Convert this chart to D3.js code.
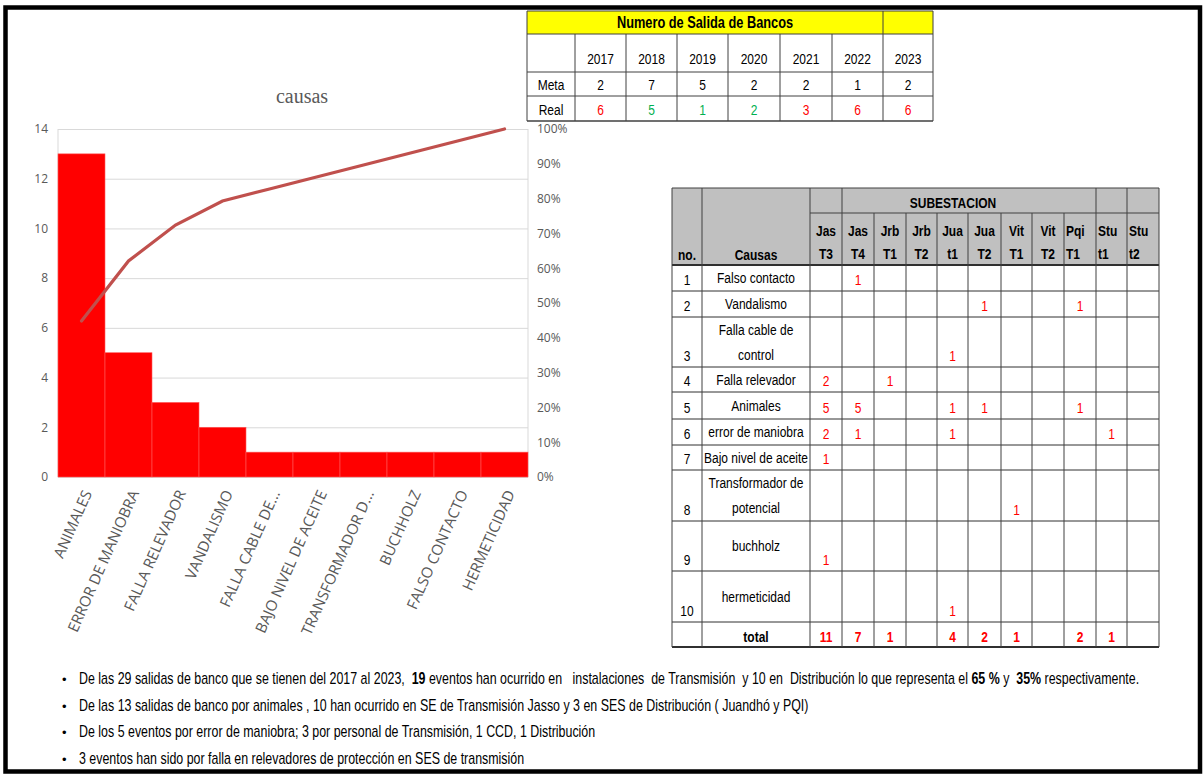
<!DOCTYPE html>
<html>
<head>
<meta charset="utf-8">
<script src="https://cdn.jsdelivr.net/npm/d3@7"></script>
<style>
    body { margin: 0; background: #fff; }
    svg { display: block; }
    .narrow, .notes { font-family: "Liberation Sans Narrow", "Arial Narrow", "Liberation Sans", Arial, sans-serif; }
</style>
</head>
<body>
<svg id="page" width="1204" height="776"></svg>
<script>

/*
*       Data
*/

// Pareto chart: causes and how many bank outages each one caused
var causes = ['ANIMALES', 'ERROR DE MANIOBRA', 'FALLA RELEVADOR', 'VANDALISMO', 'FALLA CABLE DE...',
              'BAJO NIVEL DE ACEITE', 'TRANSFORMADOR D...', 'BUCHHOLZ', 'FALSO CONTACTO', 'HERMETICIDAD'];
var causeCounts = [13, 5, 3, 2, 1, 1, 1, 1, 1, 1];
var leftTicks = [0, 2, 4, 6, 8, 10, 12, 14];
var rightTicks = [0, 0.1, 0.2, 0.3, 0.4, 0.5, 0.6, 0.7, 0.8, 0.9, 1];

// Top table: goal vs real per year
var years = [2017, 2018, 2019, 2020, 2021, 2022, 2023];
var meta = [2, 7, 5, 2, 2, 1, 2];
var real = [6, 5, 1, 2, 3, 6, 6];

// Substation table
var stationName = ['Jas', 'Jas', 'Jrb', 'Jrb', 'Jua', 'Jua', 'Vit', 'Vit', 'Pqi', 'Stu', 'Stu'];
var stationUnit = ['T3', 'T4', 'T1', 'T2', 't1', 'T2', 'T1', 'T2', 'T1', 't1', 't2'];
var rowCauses = [['Falso contacto'], ['Vandalismo'], ['Falla cable de', 'control'], ['Falla relevador'],
                 ['Animales'], ['error de maniobra'], ['Bajo nivel de aceite'], ['Transformador de', 'potencial'],
                 ['buchholz'], ['hermeticidad']];
// one entry per substation column, 0 = empty cell
var rowValues = [
    [0, 1, 0, 0, 0, 0, 0, 0, 0, 0, 0],
    [0, 0, 0, 0, 0, 1, 0, 0, 1, 0, 0],
    [0, 0, 0, 0, 1, 0, 0, 0, 0, 0, 0],
    [2, 0, 1, 0, 0, 0, 0, 0, 0, 0, 0],
    [5, 5, 0, 0, 1, 1, 0, 0, 1, 0, 0],
    [2, 1, 0, 0, 1, 0, 0, 0, 0, 1, 0],
    [1, 0, 0, 0, 0, 0, 0, 0, 0, 0, 0],
    [0, 0, 0, 0, 0, 0, 1, 0, 0, 0, 0],
    [1, 0, 0, 0, 0, 0, 0, 0, 0, 0, 0],
    [0, 0, 0, 0, 1, 0, 0, 0, 0, 0, 0]
];

// Bullet notes (bold parts marked with *)
var notes = [
    'De las 29 salidas de banco que se tienen del 2017 al 2023,  *19* eventos han ocurrido en   instalaciones  de Transmisión  y 10 en  Distribución lo que representa el *65 %* y  *35%* respectivamente.',
    'De las 13 salidas de banco por animales , 10 han ocurrido en SE de Transmisión Jasso y 3 en SES de Distribución ( Juandhó y PQI)',
    'De los 5 eventos por error de maniobra; 3 por personal de Transmisión, 1 CCD, 1 Distribución',
    '3 eventos han sido por falla en relevadores de protección en SES de transmisión'
];

var svg = d3.select('#page');
var RED = '#ff0000', GREEN = '#00b050';

// No Arial Narrow installed, so fake it: regular face squeezed horizontally by a group scale
var NARROW = 0.8;
function narrowText(parent, x, y, str, opts) {
    opts = opts || {};
    var g = parent.append('g')
        .attr('transform', 'translate(' + x + ',' + y + ') scale(' + NARROW + ',1)');
    return g.append('text')
        .attr('text-anchor', opts.anchor || 'middle')
        .style('font-size', (opts.size || 15) + 'px')
        .style('font-weight', opts.bold ? 'bold' : 'normal')
        .style('fill', opts.color || '#000')
        .text(str);
}

/*
*       Pareto chart
*/

var plot = { left: 58, right: 528, top: 129, bottom: 477 };
var total = d3.sum(causeCounts);
var running = 0;
var cumulative = causeCounts.map(function(c) { running += c; return running / total; });

var x = d3.scaleBand().domain(causes).range([plot.left, plot.right]).padding(0);
var y = d3.scaleLinear().domain([0, 14]).range([plot.bottom, plot.top]);
var yPct = d3.scaleLinear().domain([0, 1]).range([plot.bottom, plot.top]);

var chart = svg.append('g').attr('class', 'chart');

chart.append('text')
    .attr('x', 302).attr('y', 103)
    .attr('text-anchor', 'middle')
    .style('font-family', '"Liberation Serif", "DejaVu Serif", serif')
    .style('font-size', '20px')
    .style('fill', '#595959')
    .text('causas');

// gridlines
chart.append('g')
    .attr('transform', 'translate(' + plot.left + ',0)')
    .call(d3.axisLeft(y).tickValues(leftTicks).tickSize(-(plot.right - plot.left)).tickFormat(''))
    .call(function(g) { g.select('.domain').remove(); })
    .selectAll('line').attr('stroke', '#d9d9d9');

// plot side lines
[plot.left, plot.right].forEach(function(px) {
    chart.append('line')
        .attr('x1', px).attr('x2', px).attr('y1', plot.top).attr('y2', plot.bottom)
        .attr('stroke', '#d9d9d9');
});

// bars
chart.append('g').selectAll('rect')
    .data(causeCounts)
    .enter().append('rect')
    .attr('x', function(d, i) { return x(causes[i]); })
    .attr('y', function(d) { return y(d); })
    .attr('width', x.bandwidth())
    .attr('height', function(d) { return plot.bottom - y(d); })
    .attr('fill', RED)
    .attr('stroke', '#ff5a5a')
    .attr('stroke-width', 0.6);

// cumulative line
var line = d3.line()
    .x(function(d, i) { return x(causes[i]) + x.bandwidth() / 2; })
    .y(function(d) { return yPct(d); });

chart.append('path')
    .datum(cumulative)
    .attr('d', line)
    .attr('fill', 'none')
    .attr('stroke', '#c0504d')
    .attr('stroke-width', 3.2)
    .attr('stroke-linecap', 'round');

// axes
var axisFont = '"Open Sans", "Noto Sans", sans-serif';

var leftAxis = chart.append('g')
    .attr('transform', 'translate(' + (plot.left - 10) + ',0)')
    .call(d3.axisLeft(y).tickValues(leftTicks).tickSize(0).tickPadding(0));
var rightAxis = chart.append('g')
    .attr('transform', 'translate(' + (plot.right + 9) + ',0)')
    .call(d3.axisRight(yPct).tickValues(rightTicks).tickSize(0).tickPadding(0).tickFormat(d3.format('.0%')));

[leftAxis, rightAxis].forEach(function(a) {
    a.select('.domain').remove();
    a.selectAll('text')
        .style('font-family', axisFont)
        .style('font-size', '12px')
        .style('fill', '#595959');
});

// rotated category labels
chart.append('g').selectAll('text')
    .data(causes)
    .enter().append('text')
    .attr('transform', function(d) {
        return 'translate(' + (x(d) + x.bandwidth() / 2 + 6) + ',' + (plot.bottom + 14) + ') rotate(-66)';
    })
    .attr('text-anchor', 'end')
    .attr('dy', '0.35em')
    .style('font-family', axisFont)
    .style('font-size', '15px')
    .style('fill', '#595959')
    .text(function(d) { return d; });

/*
*       Table: Numero de Salida de Bancos
*/

var topTable = svg.append('g').attr('class', 'narrow');
var tCols = [527, 575, 626, 677, 728, 780, 832, 883, 933];
var tRows = [11, 34, 72, 96, 121];

topTable.append('rect')
    .attr('x', tCols[0]).attr('y', tRows[0])
    .attr('width', tCols[8] - tCols[0]).attr('height', tRows[1] - tRows[0])
    .attr('fill', '#ffff00');

narrowText(topTable, (tCols[0] + tCols[7]) / 2, tRows[1] - 6, 'Numero de Salida de Bancos', { size: 16, bold: true });

// horizontal rules
tRows.forEach(function(ry) {
    topTable.append('line')
        .attr('x1', tCols[0]).attr('x2', tCols[8]).attr('y1', ry).attr('y2', ry)
        .attr('stroke', '#404040').attr('stroke-width', ry === tRows[4] ? 1.5 : 1);
});
// vertical rules
tCols.forEach(function(cx, i) {
    var top = (i === 0 || i >= 7) ? tRows[0] : tRows[1];
    topTable.append('line')
        .attr('x1', cx).attr('x2', cx).attr('y1', top).attr('y2', tRows[4])
        .attr('stroke', '#404040');
});

function cellCenter(i) { return (tCols[i] + tCols[i + 1]) / 2; }

years.forEach(function(yr, i) {
    narrowText(topTable, cellCenter(i + 1), tRows[2] - 8, yr);
    narrowText(topTable, cellCenter(i + 1), tRows[3] - 6, meta[i]);
    narrowText(topTable, cellCenter(i + 1), tRows[4] - 6, real[i], { color: real[i] > meta[i] ? RED : GREEN });
});

narrowText(topTable, cellCenter(0), tRows[3] - 6, 'Meta');
narrowText(topTable, cellCenter(0), tRows[4] - 6, 'Real');

/*
*       Table: SUBESTACION
*/

var sub = svg.append('g').attr('class', 'narrow');
var sCols = [672, 702, 810, 842, 874, 906, 937, 968, 1001, 1032, 1064, 1096, 1127, 1159];
var headTop = 188, headMid = 213, headBottom = 265;
var rowHeights = [26, 26, 50, 25, 27, 26, 25, 51, 50, 51, 25];  // last one is the total row

var rowEdges = [headBottom];
rowHeights.forEach(function(h) { rowEdges.push(rowEdges[rowEdges.length - 1] + h); });
var tableBottom = rowEdges[rowEdges.length - 1];

// header fill
sub.append('rect')
    .attr('x', sCols[0]).attr('y', headTop)
    .attr('width', sCols[13] - sCols[0]).attr('height', headBottom - headTop)
    .attr('fill', '#c0c0c0');

// horizontal rules
sub.append('line').attr('x1', sCols[0]).attr('x2', sCols[13]).attr('y1', headTop).attr('y2', headTop)
    .attr('stroke', '#404040');
sub.append('line').attr('x1', sCols[2]).attr('x2', sCols[13]).attr('y1', headMid).attr('y2', headMid)
    .attr('stroke', '#404040');
rowEdges.forEach(function(ry, i) {
    sub.append('line')
        .attr('x1', sCols[0]).attr('x2', sCols[13]).attr('y1', ry).attr('y2', ry)
        .attr('stroke', '#303030').attr('stroke-width', (i === 0 || i === rowEdges.length - 1) ? 2 : 1);
});
// vertical rules (SUBESTACION is merged across the first nine station columns)
sCols.forEach(function(cx, i) {
    var top = (i >= 4 && i <= 10) ? headMid : headTop;
    sub.append('line')
        .attr('x1', cx).attr('x2', cx).attr('y1', top).attr('y2', tableBottom)
        .attr('stroke', '#404040');
});

function sCenter(i) { return (sCols[i] + sCols[i + 1]) / 2; }

narrowText(sub, (sCols[2] + sCols[11]) / 2, headMid - 5, 'SUBESTACION', { bold: true });
narrowText(sub, sCenter(0), headBottom - 5, 'no.', { bold: true });
narrowText(sub, sCenter(1), headBottom - 5, 'Causas', { bold: true });

stationName.forEach(function(name, i) {
    var leftAligned = i >= 8;
    var tx = leftAligned ? sCols[i + 2] + 2 : sCenter(i + 2);
    var anchor = leftAligned ? 'start' : 'middle';
    narrowText(sub, tx, headBottom - 29, name, { bold: true, anchor: anchor });
    narrowText(sub, tx, headBottom - 6, stationUnit[i], { bold: true, anchor: anchor });
});

// body rows
rowCauses.forEach(function(lines, r) {
    var top = rowEdges[r], bottom = rowEdges[r + 1];
    var mid = (top + bottom) / 2;

    narrowText(sub, sCenter(0), bottom - 6, r + 1);

    lines.forEach(function(t, k) {
        narrowText(sub, sCenter(1), mid + 5 + (k - (lines.length - 1) / 2) * 25, t);
    });

    rowValues[r].forEach(function(v, c) {
        if (!v) return;
        narrowText(sub, sCenter(c + 2), bottom - 6, v, { color: RED });
    });
});

// total row
narrowText(sub, sCenter(1), tableBottom - 5, 'total', { bold: true });
stationName.forEach(function(n, c) {
    var colSum = d3.sum(rowValues, function(row) { return row[c]; });
    if (!colSum) return;
    narrowText(sub, sCenter(c + 2), tableBottom - 5, colSum, { bold: true, color: RED });
});

/*
*       Notes
*/

// each note is squeezed with a scale on its own group, so the bold tspans stay in place
var noteG = svg.append('g').attr('class', 'notes');
var noteGroups = [];
notes.forEach(function(note, i) {
    var ny = 684 + i * 26.5;
    noteG.append('text').attr('x', 62).attr('y', ny).style('font-size', '13px').text('•');
    var g = noteG.append('g').attr('transform', 'translate(79,' + ny + ')');
    var t = g.append('text').attr('x', 0).attr('y', 0).style('font-size', '16px').style('white-space', 'pre');
    note.split('*').forEach(function(part, k) {
        t.append('tspan').style('font-weight', k % 2 ? 'bold' : 'normal').text(part);
    });
    noteGroups.push({ g: g, t: t, y: ny });
});
// first note runs to about x = 1140 in the original
var noteSqueeze = 1061 / noteGroups[0].t.node().getComputedTextLength();
noteGroups.forEach(function(n) {
    n.g.attr('transform', 'translate(79,' + n.y + ') scale(' + noteSqueeze + ',1)');
});

/*
*       Frame
*/

svg.append('path')
    .attr('d', 'M5.5,7.5 H1200 V771.5 H5.5 Z')
    .attr('fill', 'none')
    .attr('stroke', '#000')
    .attr('stroke-width', 4.5);

</script>
</body>
</html>
